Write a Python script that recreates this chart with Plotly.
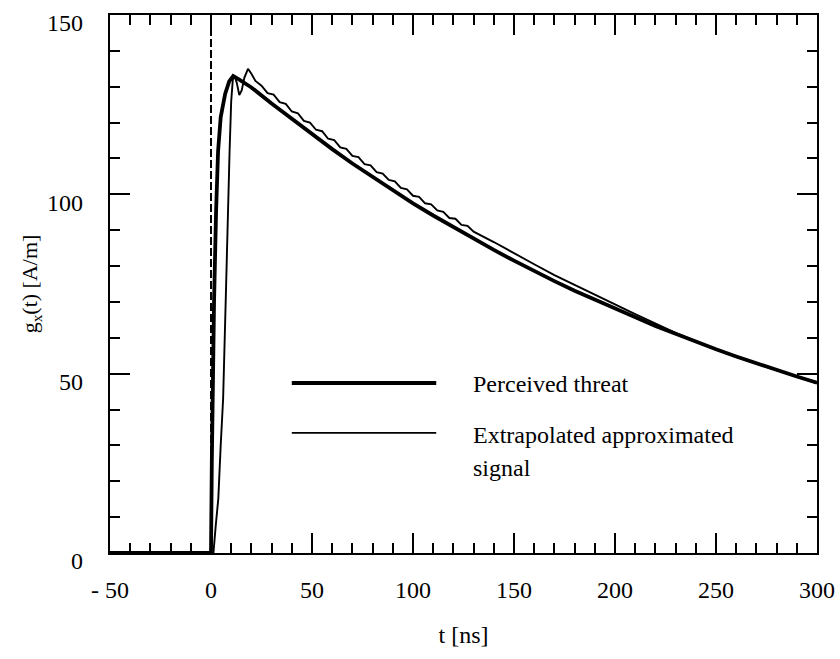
import plotly.graph_objects as go

# Perceived threat (thick curve): time in ns, field in A/m
threat_t = [-50, 0, 0.4, 0.8, 1.5, 2.5, 3.5, 4.8, 7, 9, 11, 14, 20, 30, 40, 50, 60, 70, 80, 90,
            100, 110, 120, 130, 140, 150, 160, 170, 180, 190, 200, 210, 220, 230, 240, 250,
            260, 270, 280, 290, 300]
threat_g = [0, 0, 25, 45, 70, 95, 112, 121.5, 128, 131.5, 133, 132, 129.8, 125.3, 121, 116.7,
            112.6, 108.6, 104.8, 101.1, 97.5, 94.1, 90.8, 87.6, 84.5, 81.5, 78.6, 75.8, 73.1,
            70.6, 68.1, 65.7, 63.3, 61.1, 58.9, 56.8, 54.8, 52.9, 51.0, 49.2, 47.5]

# Extrapolated approximated signal (thin curve)
approx_t = [-50, 1.2, 2.4, 3.6, 4.8, 6.0, 7.5, 8.5, 9.2, 10.0, 10.8, 11.8, 12.8, 14.0, 15.2,
            16.5, 18.3, 20, 22, 25, 28, 31, 34, 37, 40, 43, 46, 49, 52, 55, 58, 61, 64, 67,
            70, 73, 76, 79, 82, 85, 88, 91, 94, 97, 100, 103, 106, 109, 112, 115, 118, 121,
            124, 127, 130, 140, 150, 160, 170, 180, 190, 200, 210, 220, 230, 240, 250, 260,
            270, 280, 290, 300]
approx_g = [0, 0, 8, 15, 30, 43, 75, 100, 112, 126, 132, 132.8, 131, 127.7, 129, 132.5, 135,
            133.6, 131.6, 130.3, 128.2, 127.8, 125.7, 125.2, 123.1, 122.6, 120.5, 120.0, 118.0,
            117.6, 115.5, 115.1, 113.1, 112.7, 110.7, 110.4, 108.4, 108.1, 106.2, 105.8, 104.0,
            103.6, 101.8, 101.4, 99.6, 99.3, 97.5, 97.2, 95.5, 95.1, 93.4, 93.2, 91.5, 91.2,
            89.6, 86.7, 83.5, 80.5, 77.5, 74.7, 72.0, 69.3, 66.6, 63.9, 61.4, 59.0, 56.8, 54.7,
            52.8, 50.9, 49.1, 47.3]

x_ticks = [-50, 0, 50, 100, 150, 200, 250, 300]
x_tick_text = ["- 50", "0", "50", "100", "150", "200", "250", "300"]
y_ticks = [0, 50, 100, 150]
y_tick_text = ["0", "50", "100", "150"]

FONT = "Liberation Serif"
INK = "black"
FS = 24

fig = go.Figure()
fig.add_trace(go.Scatter(x=threat_t, y=threat_g, mode="lines",
                         line=dict(color=INK, width=3.8), name="Perceived threat",
                         showlegend=False))
fig.add_trace(go.Scatter(x=approx_t, y=approx_g, mode="lines",
                         line=dict(color=INK, width=1.9), name="Extrapolated approximated signal",
                         showlegend=False))

# dashed marker at t = 0
fig.add_shape(type="line", x0=0, x1=0, y0=0, y1=150, xref="x", yref="y",
              line=dict(color=INK, width=2, dash="8px,3px"))

# hand-drawn key
fig.add_shape(type="line", x0=40, x1=111.5, y0=47.4, y1=47.4, xref="x", yref="y",
              line=dict(color=INK, width=3.8))
fig.add_shape(type="line", x0=40, x1=111.5, y0=33.5, y1=33.5, xref="x", yref="y",
              line=dict(color=INK, width=1.9))
key_font = dict(family=FONT, size=FS, color=INK)
fig.add_annotation(x=128.5, y=47.0, xref="x", yref="y", text="Perceived threat",
                   showarrow=False, xanchor="left", yanchor="middle", font=key_font)
fig.add_annotation(x=128.5, y=32.8, xref="x", yref="y", text="Extrapolated approximated",
                   showarrow=False, xanchor="left", yanchor="middle", font=key_font)
fig.add_annotation(x=128.5, y=23.8, xref="x", yref="y", text="signal",
                   showarrow=False, xanchor="left", yanchor="middle", font=key_font)

axis_common = dict(
    showline=True, linecolor=INK, linewidth=2.2, mirror="allticks",
    ticks="inside", ticklen=20, tickwidth=1.8, tickcolor=INK,
    showgrid=False, zeroline=False, automargin=False,
    tickfont=dict(family=FONT, size=FS, color=INK),
    minor=dict(ticks="inside", ticklen=10, tickwidth=1.6, tickcolor=INK, dtick=10,
               showgrid=False),
)

fig.update_xaxes(range=[-50, 300], tickmode="array", tickvals=x_ticks, ticktext=x_tick_text,
                 ticklabelstandoff=14,
                 title=dict(text="t [ns]", font=dict(family=FONT, size=FS, color=INK),
                            standoff=24),
                 **axis_common)
fig.update_yaxes(range=[0, 150], tickmode="array", tickvals=y_ticks, ticktext=y_tick_text,
                 ticklabelstandoff=20, ticklabelshift=8,
                 title=dict(text="g<sub>x</sub>(t) [A/m]",
                            font=dict(family=FONT, size=22, color=INK), standoff=3),
                 **axis_common)

fig.update_layout(
    width=840, height=659,
    margin=dict(l=110, r=23, t=15, b=106),
    paper_bgcolor="white", plot_bgcolor="white",
    showlegend=False,
)

fig.write_html("out.html")
